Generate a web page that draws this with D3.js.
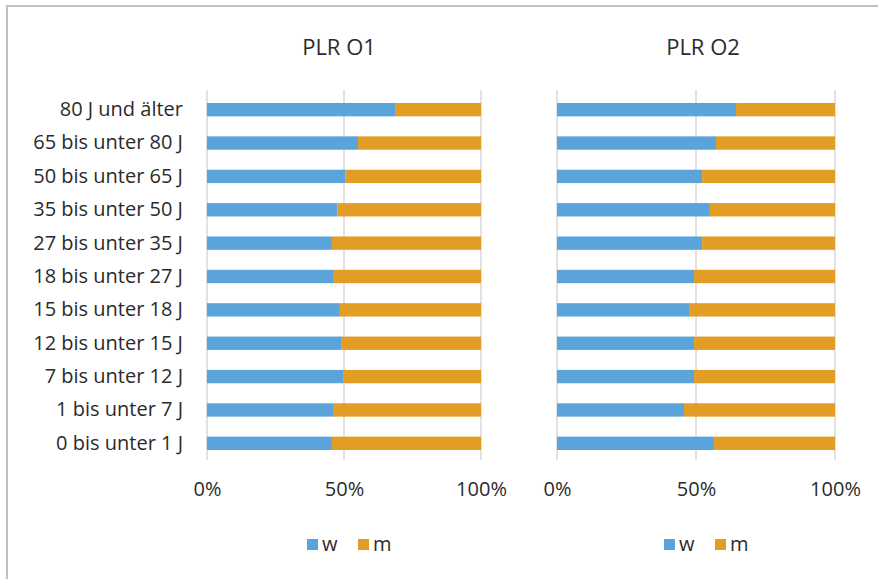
<!DOCTYPE html>
<html>
<head>
<meta charset="utf-8">
<script src="https://cdn.jsdelivr.net/npm/d3@7"></script>
<style>
	body { margin: 0; background: #ffffff; }
	svg { display: block; }
	.labels, .tick text, .title, .legend text {
		font-family: "Open Sans", sans-serif;
		fill: #2b2b2b;
	}
	.title { font-size: 22px; }
	.labels { font-size: 20px; }
	.legend text { font-size: 20px; }
</style>
</head>
<body>
<svg></svg>
<script>
	var categories = ["80 J und älter", "65 bis unter 80 J", "50 bis unter 65 J", "35 bis unter 50 J",
		"27 bis unter 35 J", "18 bis unter 27 J", "15 bis unter 18 J", "12 bis unter 15 J",
		"7 bis unter 12 J", "1 bis unter 7 J", "0 bis unter 1 J"];
	var seriesKeys = ["w", "m"];
	var panelTitles = ["PLR O1", "PLR O2"];
	var tickValues = [0, 0.5, 1];

	// share in %
	var plr01W = [68.9, 55.1, 50.6, 47.6, 45.6, 46.3, 48.5, 49.2, 49.9, 46.3, 45.6];
	var plr01M = [31.1, 44.9, 49.4, 52.4, 54.4, 53.7, 51.5, 50.8, 50.1, 53.7, 54.4];
	var plr02W = [64.4, 57.2, 52.2, 55.0, 52.2, 49.3, 47.8, 49.3, 49.3, 45.7, 56.5];
	var plr02M = [35.6, 42.8, 47.8, 45.0, 47.8, 50.7, 52.2, 50.7, 50.7, 54.3, 43.5];

	var colors = { w: "#5ba3db", m: "#e19d24" };
	var sizeSvg = { wt: 878, ht: 579 };

	var svg = d3.select("svg")
		.attr("width", sizeSvg.wt)
		.attr("height", sizeSvg.ht);

	// chart border (runs off right and bottom like the screenshot)
	svg.append("rect")
		.attr("x", 7).attr("y", 6)
		.attr("width", sizeSvg.wt + 10).attr("height", sizeSvg.ht + 10)
		.attr("fill", "#ffffff")
		.attr("stroke", "#c0c0c0")
		.attr("stroke-width", 2);

	var panels = [
		{ title: panelTitles[0], w: plr01W, m: plr01M, x0: 207, x1: 481, titleX: 339, legendX: 350, showLabels: true },
		{ title: panelTitles[1], w: plr02W, m: plr02M, x0: 557, x1: 835, titleX: 703, legendX: 707, showLabels: false }
	];

	var plotTop = 93, plotBottom = 460;

	function drawPanel(p) {
		var rows = categories.map(function (c, i) { return { cat: c, w: p.w[i], m: p.m[i] }; });
		var stacked = d3.stack().keys(seriesKeys).offset(d3.stackOffsetExpand)(rows);

		var xScale = d3.scaleLinear().domain([0, 1]).range([p.x0, p.x1]);
		var yScale = d3.scaleBand().domain(categories).range([plotTop, plotBottom]).paddingInner(0.6).paddingOuter(0.3);

		var g = svg.append("g");

		// gridlines
		g.selectAll(".grid").data(tickValues)
			.enter()
			.append("line")
			.attr("x1", function (d) { return xScale(d); })
			.attr("x2", function (d) { return xScale(d); })
			.attr("y1", plotTop - 3)
			.attr("y2", plotBottom)
			.attr("stroke", "#d9d9d9")
			.attr("stroke-width", 1.5);

		// bars
		g.selectAll(".series").data(stacked)
			.enter()
			.append("g")
			.attr("fill", function (d) { return colors[d.key]; })
			.selectAll("rect").data(function (d) { return d; })
			.enter()
			.append("rect")
			.attr("x", function (d) { return xScale(d[0]); })
			.attr("y", function (d) { return yScale(d.data.cat); })
			.attr("width", function (d) { return xScale(d[1]) - xScale(d[0]); })
			.attr("height", yScale.bandwidth());

		// x axis tick labels
		var xAxis = d3.axisBottom(xScale).tickValues(tickValues).tickFormat(d3.format(".0%")).tickSize(0).tickPadding(0);
		var ax = g.append("g").attr("transform", "translate(0,496)").call(xAxis);
		ax.select(".domain").remove();
		ax.selectAll("text").attr("class", "labels").attr("dy", 0).style("font-size", "20px");

		// category labels
		if (p.showLabels) {
			var yAxis = d3.axisLeft(yScale).tickSize(0).tickPadding(0);
			var ay = g.append("g").attr("transform", "translate(183,0)").call(yAxis);
			ay.select(".domain").remove();
			ay.selectAll("text").attr("class", "labels").style("font-size", "20px");
		}

		// title
		g.append("text").attr("class", "title")
			.attr("x", p.titleX).attr("y", 55)
			.attr("text-anchor", "middle")
			.text(p.title);

		// legend
		var legend = g.append("g").attr("class", "legend")
			.attr("transform", "translate(" + (p.legendX - 43) + ",545)");
		var item = legend.selectAll("g").data(seriesKeys)
			.enter()
			.append("g")
			.attr("transform", function (d, i) { return "translate(" + (i * 51) + ",0)"; });
		item.append("rect")
			.attr("x", 0).attr("y", -6)
			.attr("width", 11).attr("height", 11)
			.attr("fill", function (d) { return colors[d]; });
		item.append("text")
			.attr("x", 15).attr("y", 6)
			.text(function (d) { return d; });
	}

	panels.forEach(drawPanel);
</script>
</body>
</html>
